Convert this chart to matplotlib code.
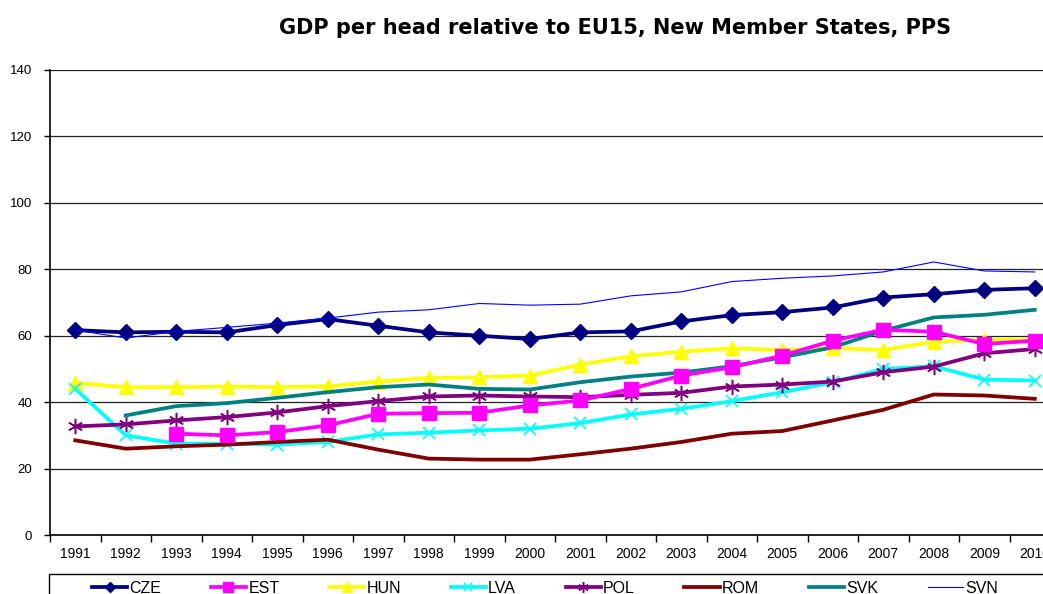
import numpy as np
import matplotlib
matplotlib.use("Agg")
import matplotlib.pyplot as plt
from matplotlib.patches import Rectangle

plt.rcParams['font.family'] = ['Liberation Sans', 'DejaVu Sans']

years = [str(y) for y in range(1991, 2011)]
nan = np.nan
CZE = [61.7, 61.0, 61.2, 61.0, 63.2, 65.0, 63.0, 61.0, 60.0, 59.0, 61.0, 61.3, 64.3, 66.2, 67.1, 68.5, 71.5, 72.5, 73.8, 74.3]
EST = [nan, nan, 30.5, 30.0, 31.0, 33.0, 36.5, 36.7, 36.8, 39.0, 40.5, 44.0, 48.0, 50.5, 54.0, 58.5, 61.8, 61.2, 57.5, 58.5]
HUN = [45.8, 44.5, 44.5, 44.7, 44.5, 44.8, 46.2, 47.3, 47.5, 48.0, 51.3, 53.8, 55.2, 56.2, 55.7, 56.3, 55.7, 58.2, 58.8, 58.8]
LVA = [44.0, 30.0, 27.5, 27.5, 27.2, 28.0, 30.3, 30.8, 31.5, 32.0, 33.7, 36.3, 38.0, 40.3, 43.0, 46.0, 50.0, 50.8, 46.8, 46.5]
POL = [32.7, 33.3, 34.5, 35.5, 36.9, 38.8, 40.3, 41.7, 42.0, 41.7, 41.5, 42.2, 42.8, 44.7, 45.3, 46.2, 49.0, 50.7, 54.7, 56.0]
ROM = [28.5, 26.0, 26.7, 27.2, 28.0, 28.7, 25.7, 23.0, 22.7, 22.7, 24.3, 26.0, 28.0, 30.5, 31.3, 34.5, 37.7, 42.3, 42.0, 41.0]
SVK = [nan, 36.0, 38.8, 39.7, 41.3, 43.0, 44.5, 45.3, 44.0, 43.8, 46.0, 47.7, 48.9, 50.8, 53.5, 56.5, 61.5, 65.5, 66.3, 67.8]
SVN = [61.7, 59.3, 61.3, 62.5, 63.8, 65.3, 67.1, 67.8, 69.7, 69.2, 69.5, 72.0, 73.2, 76.3, 77.3, 78.0, 79.2, 82.2, 79.5, 79.2]
yticks = [0, 20, 40, 60, 80, 100, 120, 140]

W, H = 1043, 594
fig = plt.figure(figsize=(W / 100, H / 100), dpi=100)
ax = fig.add_axes([50 / W, (H - 535) / H, 20 * 50.5 / W, (535 - 70) / H])

x = np.arange(len(years))
lw = 2.7
ax.plot(x, CZE, color='#000080', lw=lw, marker='D', ms=8, label='CZE', zorder=5)
ax.plot(x, EST, color='#FF00FF', lw=lw, marker='s', ms=10, label='EST', zorder=4)
ax.plot(x, HUN, color='#FFFF00', lw=lw, marker='^', ms=10, label='HUN', zorder=3)
ax.plot(x, LVA, color='#00FFFF', lw=lw, marker='x', ms=9, mew=1.2, label='LVA', zorder=3)
ax.plot(x, POL, color='#800080', lw=lw, marker=(6, 2, 0), ms=11, mew=1.1, label='POL', zorder=3)
ax.plot(x, ROM, color='#800000', lw=lw, label='ROM', zorder=3)
ax.plot(x, SVK, color='#008080', lw=lw, label='SVK', zorder=3)
ax.plot(x, SVN, color='#0000FF', lw=0.8, label='SVN', zorder=6)

ax.set_xlim(-0.5, 19.5)
ax.set_ylim(0, 140)
ax.set_yticks(yticks)
ax.set_yticklabels([str(v) for v in yticks], fontsize=9.5)
ax.set_xticks(x)
ax.set_xticklabels(years, fontsize=10)
ax.set_xticks(np.arange(-0.5, 19.6, 1), minor=True)
ax.tick_params(axis='x', which='major', length=0, pad=9)
ax.tick_params(axis='x', which='minor', length=5, width=1, color='black', direction='out')
ax.tick_params(axis='y', length=4, width=1, direction='out', pad=9)
ax.yaxis.grid(True, color='#222222', lw=0.9)
ax.set_axisbelow(True)
for s in ['top', 'right']:
    ax.spines[s].set_visible(False)
ax.spines['left'].set_color('black')
ax.spines['bottom'].set_color('black')
ax.spines['left'].set_linewidth(1.2)
ax.spines['bottom'].set_linewidth(1.2)

fig.text(615 / W, 1 - 28 / H, 'GDP per head relative to EU15, New Member States, PPS',
         ha='center', va='center', fontsize=15, fontweight='bold', family='DejaVu Sans')

# legend frame (extends past the right and bottom edges, like the reference)
fig.patches.append(Rectangle((49 / W, -0.1), 1.2, (0.1 + 1 - 574 / H), transform=fig.transFigure,
                             fill=False, edgecolor='black', lw=1.0, clip_on=False))

h, l = ax.get_legend_handles_labels()
leg = fig.legend(h, l, loc='upper left', bbox_to_anchor=(92 / W, 1 - 581 / H), ncol=8,
                 frameon=False, fontsize=11.5, handlelength=2.2, handletextpad=0.15,
                 columnspacing=3.1, borderpad=0, borderaxespad=0, markerscale=0.7)

fig.savefig('out.png', dpi=100)
